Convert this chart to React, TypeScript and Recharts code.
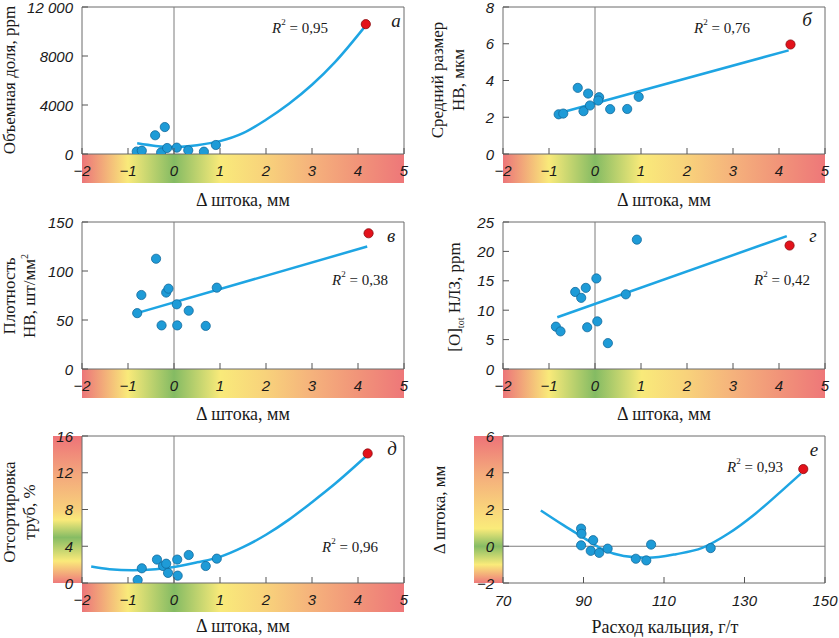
import React from 'react';
import { ComposedChart, Scatter, Line, XAxis, YAxis, ReferenceArea, ReferenceLine } from 'recharts';

type Pt = { x: number; y: number };

const shiftTicks = [-2, -1, 0, 1, 2, 3, 4, 5];
const calciumTicks = [70, 90, 110, 130, 150];

// а — объемная доля
const volumeTicks = [0, 4000, 8000, 12000];
const volumePoints: Pt[] = [
  { x: -0.81, y: 200 }, { x: -0.7, y: 270 }, { x: -0.41, y: 1530 }, { x: -0.2, y: 2200 },
  { x: -0.28, y: 130 }, { x: -0.15, y: 490 }, { x: 0.06, y: 520 }, { x: 0.31, y: 300 },
  { x: 0.65, y: 190 }, { x: 0.91, y: 735 },
];
const volumeRed: Pt[] = [{ x: 4.17, y: 10600 }];
const volumeTrend: Pt[] = [
  { x: -0.8, y: 870 }, { x: -0.4, y: 660 }, { x: 0, y: 570 }, { x: 0.5, y: 720 }, { x: 1, y: 1050 },
  { x: 1.5, y: 1700 }, { x: 2, y: 2800 }, { x: 2.5, y: 4100 }, { x: 3, y: 5650 }, { x: 3.5, y: 7500 },
  { x: 4.15, y: 10400 },
];

// б — средний размер НВ
const sizeTicks = [0, 2, 4, 6, 8];
const sizePoints: Pt[] = [
  { x: -0.79, y: 2.16 }, { x: -0.69, y: 2.2 }, { x: -0.375, y: 3.6 }, { x: -0.15, y: 3.29 },
  { x: -0.25, y: 2.33 }, { x: -0.11, y: 2.64 }, { x: 0.09, y: 3.09 }, { x: 0.07, y: 2.91 },
  { x: 0.33, y: 2.44 }, { x: 0.7, y: 2.45 }, { x: 0.95, y: 3.11 },
];
const sizeRed: Pt[] = [{ x: 4.25, y: 5.96 }];
const sizeTrend: Pt[] = [{ x: -0.79, y: 2.22 }, { x: 4.21, y: 5.64 }];

// в — плотность НВ
const densityTicks = [0, 50, 100, 150];
const densityPoints: Pt[] = [
  { x: -0.8, y: 57 }, { x: -0.71, y: 75.5 }, { x: -0.39, y: 112.5 }, { x: -0.17, y: 78 },
  { x: -0.12, y: 82 }, { x: -0.27, y: 44.5 }, { x: 0.06, y: 66 }, { x: 0.07, y: 44.5 },
  { x: 0.32, y: 59.5 }, { x: 0.69, y: 44 }, { x: 0.93, y: 83 },
];
const densityRed: Pt[] = [{ x: 4.23, y: 138.5 }];
const densityTrend: Pt[] = [{ x: -0.77, y: 57.5 }, { x: 4.2, y: 125 }];

// г — [O]tot НЛЗ
const oxygenTicks = [0, 5, 10, 15, 20, 25];
const oxygenPoints: Pt[] = [
  { x: -0.85, y: 7.2 }, { x: -0.75, y: 6.4 }, { x: -0.43, y: 13.1 }, { x: -0.3, y: 12.1 },
  { x: -0.2, y: 13.8 }, { x: -0.17, y: 7.1 }, { x: 0.03, y: 15.4 }, { x: 0.05, y: 8.1 },
  { x: 0.28, y: 4.4 }, { x: 0.67, y: 12.7 }, { x: 0.91, y: 22 },
];
const oxygenRed: Pt[] = [{ x: 4.23, y: 21 }];
const oxygenTrend: Pt[] = [{ x: -0.82, y: 8.8 }, { x: 4.17, y: 22.6 }];

// д — отсортировка труб
const sortTicks = [0, 4, 8, 12, 16];
const sortPoints: Pt[] = [
  { x: -0.79, y: 0.33 }, { x: -0.7, y: 1.6 }, { x: -0.37, y: 2.55 }, { x: -0.24, y: 1.85 },
  { x: -0.17, y: 2.1 }, { x: -0.13, y: 1.1 }, { x: 0.07, y: 2.55 }, { x: 0.08, y: 0.8 },
  { x: 0.32, y: 3.05 }, { x: 0.69, y: 1.85 }, { x: 0.93, y: 2.65 },
];
const sortRed: Pt[] = [{ x: 4.21, y: 14.1 }];
const sortTrend: Pt[] = [
  { x: -1.8, y: 1.8 }, { x: -1.4, y: 1.5 }, { x: -0.9, y: 1.38 }, { x: -0.4, y: 1.5 }, { x: 0, y: 1.75 },
  { x: 0.5, y: 2.25 }, { x: 1, y: 2.85 }, { x: 1.5, y: 3.9 }, { x: 2, y: 5.25 }, { x: 2.5, y: 6.9 },
  { x: 3, y: 8.8 }, { x: 3.5, y: 10.8 }, { x: 4.2, y: 13.9 },
];

// е — Δ штока от расхода кальция
const shiftYTicks = [-2, 0, 2, 4, 6];
const calciumPoints: Pt[] = [
  { x: 89.4, y: 0.96 }, { x: 89.5, y: 0.68 }, { x: 89.4, y: 0.05 }, { x: 92.4, y: 0.33 },
  { x: 91.8, y: -0.25 }, { x: 93.9, y: -0.36 }, { x: 96, y: -0.13 }, { x: 103, y: -0.68 },
  { x: 105.6, y: -0.77 }, { x: 106.8, y: 0.09 }, { x: 121.6, y: -0.1 },
];
const calciumRed: Pt[] = [{ x: 144.6, y: 4.2 }];
const calciumTrend: Pt[] = [
  { x: 79.4, y: 1.95 }, { x: 85, y: 1.15 }, { x: 90, y: 0.47 }, { x: 95, y: -0.2 }, { x: 100, y: -0.53 },
  { x: 106, y: -0.63 }, { x: 113, y: -0.43 }, { x: 119.5, y: -0.09 }, { x: 126, y: 0.69 },
  { x: 132.7, y: 1.77 }, { x: 139.3, y: 3.03 }, { x: 144, y: 3.95 },
];

const COLS = [
  { left: 0, w: 420, yw: 82, mr: 16 },
  { left: 420, w: 419, yw: 83, mr: 14 },
];
const ROWS = [
  { top: 0, h: 215, mt: 7, xh: 61 },
  { top: 210, h: 215, mt: 12, xh: 56 },
  { top: 425, h: 213, mt: 11, xh: 55 },
];

const H_GRAD =
  'linear-gradient(to right, #ec7579 0%, #f9ea7a 14.3%, #84bb63 28.6%, #f9ea7a 43%, #f8d27b 57.1%, #f5b27c 71.4%, #f19479 85.7%, #ee7779 100%)';
const V_GRAD_SORT =
  'linear-gradient(to bottom, #ee7378 0%, #f3a57c 25%, #f8d07b 50%, #faea7a 57%, #86bc64 69%, #faea7a 85%, #ee7a7b 100%)';
const V_GRAD_SHIFT =
  'linear-gradient(to bottom, #ee7378 0%, #f4aa7c 25%, #f9d57b 50%, #faeb7a 63%, #86bc64 75%, #faeb7a 87.5%, #ee7a7b 100%)';

const tickStyle: React.CSSProperties = {
  fontFamily: '"Liberation Sans", Arial, sans-serif',
  fontStyle: 'italic',
  fontSize: 15,
  fill: '#1a1a1a',
};
const serif = '"Liberation Serif", "Times New Roman", serif';

const fmt = (v: number) => {
  if (v === 12000) return '12 000';
  return v < 0 ? `−${Math.abs(v)}` : String(v);
};

const XTick = (props: any) => {
  const { x, y, payload, below } = props;
  return (
    <g>
      <line x1={x} x2={x} y1={y} y2={y - 6} stroke="#555" />
      <text x={x} y={y + (below ? 17 : 16)} textAnchor="middle" dominantBaseline="central" style={tickStyle}>
        {fmt(payload.value)}
      </text>
    </g>
  );
};

const YTick = (props: any) => {
  const { x, y, payload } = props;
  return (
    <g>
      <line x1={x} x2={x + 6} y1={y} y2={y} stroke="#555" />
      <text x={x - 9} y={y} textAnchor="end" dominantBaseline="central" style={tickStyle}>
        {fmt(payload.value)}
      </text>
    </g>
  );
};

const BlueDot = (props: any) => (
  <circle cx={props.cx} cy={props.cy} r={4.6} fill="#1e9bd7" stroke="#136a9c" strokeWidth={0.8} />
);
const RedDot = (props: any) => (
  <circle cx={props.cx} cy={props.cy} r={4.6} fill="#e3121b" stroke="#8a0a0e" strokeWidth={0.8} />
);

interface PanelProps {
  col: number;
  row: number;
  xDomain: [number, number];
  xTicks: number[];
  yDomain: [number, number];
  yTicks: number[];
  points: Pt[];
  red: Pt[];
  trend: Pt[];
  zeroX?: boolean;
  zeroY?: boolean;
  below?: boolean;
}

const Panel: React.FC<PanelProps> = ({ col, row, xDomain, xTicks, yDomain, yTicks, points, red, trend, zeroX, zeroY, below }) => {
  const c = COLS[col];
  const r = ROWS[row];
  return (
    <div style={{ position: 'absolute', left: c.left, top: r.top, zIndex: 1 }}>
      <ComposedChart width={c.w} height={r.h} margin={{ top: r.mt, right: c.mr, left: 0, bottom: 0 }}>
        <XAxis
          type="number"
          dataKey="x"
          domain={xDomain}
          ticks={xTicks}
          interval={0}
          height={r.xh}
          tickSize={0}
          tickMargin={0}
          axisLine={false}
          tick={<XTick below={below} />}
          allowDataOverflow
        />
        <YAxis
          type="number"
          domain={yDomain}
          ticks={yTicks}
          interval={0}
          width={c.yw}
          tickSize={0}
          tickMargin={0}
          axisLine={false}
          tick={<YTick />}
          allowDataOverflow
        />
        <ReferenceArea x1={xDomain[0]} x2={xDomain[1]} y1={yDomain[0]} y2={yDomain[1]} fill="none" stroke="#6a6a6a" strokeWidth={1} />
        {zeroX && <ReferenceLine x={0} stroke="#7d7d7d" strokeWidth={1} />}
        {zeroY && <ReferenceLine y={0} stroke="#7d7d7d" strokeWidth={1} />}
        <Line data={trend} dataKey="y" type="monotone" stroke="#1ea5e3" strokeWidth={2.5} dot={false} isAnimationActive={false} />
        <Scatter data={points} dataKey="y" shape={<BlueDot />} isAnimationActive={false} />
        <Scatter data={red} dataKey="y" shape={<RedDot />} isAnimationActive={false} />
      </ComposedChart>
    </div>
  );
};

const plotBox = (col: number, row: number) => {
  const c = COLS[col];
  const r = ROWS[row];
  return {
    left: c.left + c.yw,
    right: c.left + c.w - c.mr,
    top: r.top + r.mt,
    bottom: r.top + r.h - r.xh,
  };
};

const HStrip = ({ col, row }: { col: number; row: number }) => {
  const b = plotBox(col, row);
  return <div style={{ position: 'absolute', left: b.left, top: b.bottom, width: b.right - b.left, height: 29, background: H_GRAD }} />;
};

const VStrip = ({ col, row, bg }: { col: number; row: number; bg: string }) => {
  const b = plotBox(col, row);
  return <div style={{ position: 'absolute', left: b.left - 29, top: b.top, width: 29, height: b.bottom - b.top, background: bg }} />;
};

const YTitle = ({ x, cy, children }: { x: number; cy: number; children: React.ReactNode }) => (
  <text x={x} y={cy} transform={`rotate(-90 ${x} ${cy})`} textAnchor="middle" fontFamily={serif} fontSize={17} fill="#1a1a1a">
    {children}
  </text>
);

const XTitle = ({ x, y, text }: { x: number; y: number; text: string }) => (
  <text x={x} y={y} textAnchor="middle" fontFamily={serif} fontSize={18} fill="#1a1a1a">
    {text}
  </text>
);

const R2 = ({ x, y, v }: { x: number; y: number; v: string }) => (
  <text x={x} y={y} textAnchor="middle" dominantBaseline="central" fontFamily={serif} fontSize={15} fill="#1a1a1a">
    <tspan fontStyle="italic">R</tspan>
    <tspan fontSize={9} dy={-6}>2</tspan>
    <tspan dy={6}>{` = ${v}`}</tspan>
  </text>
);

const Letter = ({ x, y, t }: { x: number; y: number; t: string }) => (
  <text x={x} y={y} textAnchor="middle" dominantBaseline="central" fontFamily={serif} fontStyle="italic" fontSize={19} fill="#1a1a1a">
    {t}
  </text>
);

export default function App() {
  return (
    <div style={{ position: 'absolute', left: 0, top: 0, width: 839, height: 638, background: '#fff', overflow: 'hidden' }}>
      <HStrip col={0} row={0} />
      <HStrip col={1} row={0} />
      <HStrip col={0} row={1} />
      <HStrip col={1} row={1} />
      <HStrip col={0} row={2} />
      <VStrip col={0} row={2} bg={V_GRAD_SORT} />
      <VStrip col={1} row={2} bg={V_GRAD_SHIFT} />

      <Panel col={0} row={0} xDomain={[-2, 5]} xTicks={shiftTicks} yDomain={[0, 12000]} yTicks={volumeTicks}
        points={volumePoints} red={volumeRed} trend={volumeTrend} zeroX />
      <Panel col={1} row={0} xDomain={[-2, 5]} xTicks={shiftTicks} yDomain={[0, 8]} yTicks={sizeTicks}
        points={sizePoints} red={sizeRed} trend={sizeTrend} zeroX />
      <Panel col={0} row={1} xDomain={[-2, 5]} xTicks={shiftTicks} yDomain={[0, 150]} yTicks={densityTicks}
        points={densityPoints} red={densityRed} trend={densityTrend} zeroX />
      <Panel col={1} row={1} xDomain={[-2, 5]} xTicks={shiftTicks} yDomain={[0, 25]} yTicks={oxygenTicks}
        points={oxygenPoints} red={oxygenRed} trend={oxygenTrend} zeroX />
      <Panel col={0} row={2} xDomain={[-2, 5]} xTicks={shiftTicks} yDomain={[0, 16]} yTicks={sortTicks}
        points={sortPoints} red={sortRed} trend={sortTrend} zeroX />
      <Panel col={1} row={2} xDomain={[70, 150]} xTicks={calciumTicks} yDomain={[-2, 6]} yTicks={shiftYTicks}
        points={calciumPoints} red={calciumRed} trend={calciumTrend} zeroY below />

      <svg width={839} height={638} style={{ position: 'absolute', left: 0, top: 0, zIndex: 2, pointerEvents: 'none' }}>
        <YTitle x={15} cy={80}>Объемная доля, ppm</YTitle>
        <YTitle x={443} cy={80}>Средний размер</YTitle>
        <YTitle x={464} cy={80}>НВ, мкм</YTitle>
        <YTitle x={15} cy={296}>Плотность</YTitle>
        <YTitle x={35} cy={296}>
          <tspan>НВ, шт/мм</tspan>
          <tspan fontSize={10} dy={-7}>2</tspan>
        </YTitle>
        <YTitle x={460} cy={297}>
          <tspan>[O]</tspan>
          <tspan fontSize={10} dy={4}>tot</tspan>
          <tspan dy={-4}>{'  НЛЗ, ppm'}</tspan>
        </YTitle>
        <YTitle x={15} cy={512}>Отсортировка</YTitle>
        <YTitle x={35} cy={512}>труб, %</YTitle>
        <YTitle x={445} cy={510}>Δ штока, мм</YTitle>

        <XTitle x={243} y={206} text="Δ штока, мм" />
        <XTitle x={664} y={206} text="Δ штока, мм" />
        <XTitle x={243} y={420} text="Δ штока, мм" />
        <XTitle x={664} y={420} text="Δ штока, мм" />
        <XTitle x={243} y={632} text="Δ штока, мм" />
        <XTitle x={665} y={633} text="Расход кальция, г/т" />

        <R2 x={300} y={28} v="0,95" />
        <R2 x={722} y={28} v="0,76" />
        <R2 x={360} y={280} v="0,38" />
        <R2 x={782} y={280} v="0,42" />
        <R2 x={350} y={547} v="0,96" />
        <R2 x={755} y={467} v="0,93" />

        <Letter x={396} y={20} t="а" />
        <Letter x={807} y={19} t="б" />
        <Letter x={391} y={235} t="в" />
        <Letter x={813} y={235} t="г" />
        <Letter x={392} y={448} t="д" />
        <Letter x={814} y={449} t="е" />
      </svg>
    </div>
  );
}
